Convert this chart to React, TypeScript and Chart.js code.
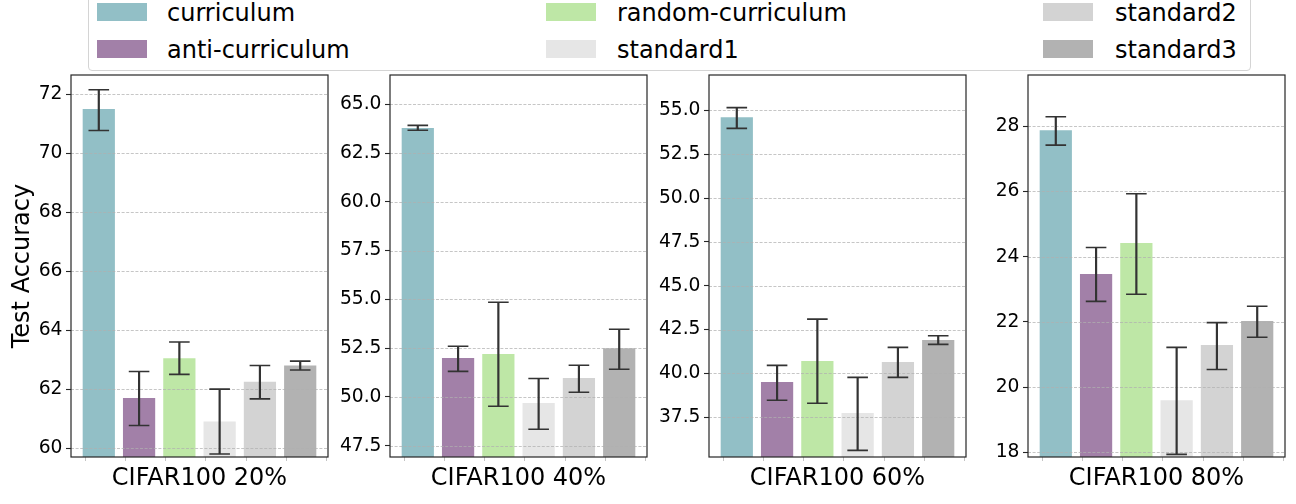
import { useEffect, useRef } from 'react';
import { Chart, registerables } from 'chart.js';

Chart.register(...registerables);
Chart.defaults.font.family = "'DejaVu Sans', sans-serif";

const seriesNames = ['curriculum', 'anti-curriculum', 'random-curriculum', 'standard1', 'standard2', 'standard3'];
const seriesColors = ['#92bfc6', '#a280a8', '#bee7a6', '#e6e6e6', '#d3d3d3', '#b2b2b2'];
const panelTitles = ['CIFAR100 20%', 'CIFAR100 40%', 'CIFAR100 60%', 'CIFAR100 80%'];

// mean test accuracy per method
const acc20 = [71.5, 61.7, 63.05, 60.9, 62.25, 62.8];
const acc40 = [63.78, 52.0, 52.2, 49.69, 50.97, 52.49];
const acc60 = [54.6, 39.51, 40.71, 37.75, 40.66, 41.91];
const acc80 = [27.88, 23.47, 24.42, 19.6, 21.29, 22.03];

// error bar ends
const low20 = [70.77, 60.77, 62.5, 59.8, 61.67, 62.65];
const high20 = [72.15, 62.6, 63.6, 62.0, 62.8, 62.95];
const low40 = [63.67, 51.31, 49.52, 48.34, 50.24, 51.42];
const high40 = [63.92, 52.6, 54.85, 50.94, 51.62, 53.47];
const low60 = [53.97, 38.47, 38.3, 35.62, 39.78, 41.66];
const high60 = [55.15, 40.46, 43.1, 39.78, 41.49, 42.15];
const low80 = [27.42, 22.63, 22.85, 17.94, 20.54, 21.53];
const high80 = [28.29, 24.28, 25.93, 21.22, 21.98, 22.48];

const yTicks20 = [60, 62, 64, 66, 68, 70, 72];
const yTicks40 = [47.5, 50, 52.5, 55, 57.5, 60, 62.5, 65];
const yTicks60 = [37.5, 40, 42.5, 45, 47.5, 50, 52.5, 55];
const yTicks80 = [18, 20, 22, 24, 26, 28];

const yLimits20 = [59.7, 72.65];
const yLimits40 = [46.92, 66.5];
const yLimits60 = [35.24, 57.01];
const yLimits80 = [17.86, 29.57];

const xTicks = [-0.34, 0.66, 1.66, 2.66, 3.66, 4.66, 5.66];

const panels = [
  { title: panelTitles[0], values: acc20, low: low20, high: high20, ticks: yTicks20, limits: yLimits20, decimals: 0 },
  { title: panelTitles[1], values: acc40, low: low40, high: high40, ticks: yTicks40, limits: yLimits40, decimals: 1 },
  { title: panelTitles[2], values: acc60, low: low60, high: high60, ticks: yTicks60, limits: yLimits60, decimals: 1 },
  { title: panelTitles[3], values: acc80, low: low80, high: high80, ticks: yTicks80, limits: yLimits80, decimals: 0 },
];

const plotLefts = [71, 390, 709, 1028];
const CANVAS_W = 334;
const CANVAS_H = 434;
const CANVAS_TOP = 70;

function Panel({ index }: { index: number }) {
  const canvasRef = useRef<HTMLCanvasElement>(null);
  const p = panels[index];

  useEffect(() => {
    if (!canvasRef.current) return;

    // dashed grid over the bars, error bars and the frame
    const overlay = {
      id: 'overlay',
      afterDatasetsDraw(chart: any) {
        const { ctx, chartArea: a, scales } = chart;
        const xs = scales.x;
        const ys = scales.y;
        ctx.save();
        ctx.beginPath();
        ctx.rect(a.left, a.top, a.right - a.left, a.bottom - a.top);
        ctx.clip();

        ctx.strokeStyle = 'rgba(176,176,176,0.9)';
        ctx.lineWidth = 0.8;
        ctx.setLineDash([3, 1.6]);
        ys.ticks.forEach((t: any) => {
          const py = Math.round(ys.getPixelForValue(t.value)) + 0.5;
          ctx.beginPath();
          ctx.moveTo(a.left, py);
          ctx.lineTo(a.right, py);
          ctx.stroke();
        });
        ctx.setLineDash([]);

        ctx.strokeStyle = '#333333';
        p.values.forEach((_v, i) => {
          const px = xs.getPixelForValue(i);
          const yl = ys.getPixelForValue(p.low[i]);
          const yh = ys.getPixelForValue(p.high[i]);
          ctx.lineWidth = 2.2;
          ctx.beginPath();
          ctx.moveTo(px, yl);
          ctx.lineTo(px, yh);
          ctx.stroke();
          ctx.lineWidth = 1.6;
          ctx.beginPath();
          ctx.moveTo(px - 10.3, yl);
          ctx.lineTo(px + 10.3, yl);
          ctx.moveTo(px - 10.3, yh);
          ctx.lineTo(px + 10.3, yh);
          ctx.stroke();
        });
        ctx.restore();

        ctx.save();
        ctx.strokeStyle = '#262626';
        ctx.lineWidth = 1.2;
        ctx.strokeRect(a.left, a.top, a.right - a.left, a.bottom - a.top);
        ctx.restore();
      },
    };

    const chart = new Chart(canvasRef.current, {
      type: 'bar',
      data: {
        datasets: [{
          data: p.values.map((v, i) => ({ x: i, y: v })),
          backgroundColor: seriesColors,
          borderWidth: 0,
          barPercentage: 0.8,
          categoryPercentage: 1,
        }],
      },
      options: {
        responsive: false,
        animation: false,
        layout: { padding: { left: 0, right: 6, top: 5, bottom: 0 } },
        plugins: { legend: { display: false }, tooltip: { enabled: false } },
        scales: {
          x: {
            type: 'linear',
            min: -0.69,
            max: 5.69,
            offset: false,
            afterBuildTicks: (s: any) => { s.ticks = xTicks.map(v => ({ value: v })); },
            afterFit: (s: any) => {
              s.height = CANVAS_H - 387;
              s.paddingLeft = 0; s.paddingRight = 0; s.paddingTop = 0; s.paddingBottom = 0;
            },
            ticks: { display: false },
            grid: { offset: false, drawOnChartArea: false, drawTicks: true, tickLength: 4, tickColor: '#c4c4c4', tickWidth: 1 },
            border: { display: false },
            title: { display: true, text: p.title, color: '#000', font: { size: 24 }, padding: { top: 0, bottom: 10.5 } },
          },
          y: {
            min: p.limits[0],
            max: p.limits[1],
            afterBuildTicks: (s: any) => { s.ticks = p.ticks.map(v => ({ value: v })); },
            afterFit: (s: any) => {
              s.width = 71;
              s.paddingLeft = 0; s.paddingRight = 0; s.paddingTop = 0; s.paddingBottom = 0;
            },
            ticks: {
              color: '#000',
              font: { size: 18.7 },
              padding: 3.5,
              callback: (v: any) => Number(v).toFixed(p.decimals),
            },
            grid: { drawOnChartArea: false, drawTicks: true, tickLength: 5, tickColor: '#262626', tickWidth: 1.1 },
            border: { display: false },
            title: index === 0
              ? { display: true, text: 'Test Accuracy', color: '#000', font: { size: 24 }, padding: { top: 8, bottom: 0 } }
              : { display: false },
          },
        },
      },
      plugins: [overlay],
    } as any);

    return () => { chart.destroy(); };
  }, [index]);

  return (
    <canvas
      ref={canvasRef}
      width={CANVAS_W}
      height={CANVAS_H}
      style={{ position: 'absolute', left: plotLefts[index] - 71, top: CANVAS_TOP, width: CANVAS_W, height: CANVAS_H }}
    />
  );
}

const legendSwatchX = [97, 546, 1043];
const legendTextX = [167, 617, 1115];
const legendRowY = [3, 40];

export default function App() {
  return (
    <div style={{ position: 'absolute', left: 0, top: 0, width: 1296, height: 504, overflow: 'hidden', background: '#fff', fontFamily: "'DejaVu Sans', sans-serif" }}>
      <div style={{ position: 'absolute', left: 88, top: -20, width: 1163, height: 91, border: '1px solid #d4d4d4', borderRadius: 4, boxSizing: 'border-box' }} />
      {seriesNames.map((name, i) => {
        const col = Math.floor(i / 2);
        const row = i % 2;
        return (
          <div key={name}>
            <div style={{ position: 'absolute', left: legendSwatchX[col], top: legendRowY[row], width: 50, height: 18, background: seriesColors[i] }} />
            <div style={{ position: 'absolute', left: legendTextX[col], top: legendRowY[row] - 2.3, fontSize: 24, lineHeight: '24px', color: '#000', whiteSpace: 'nowrap' }}>{name}</div>
          </div>
        );
      })}
      {panels.map((_p, i) => <Panel key={i} index={i} />)}
    </div>
  );
}
